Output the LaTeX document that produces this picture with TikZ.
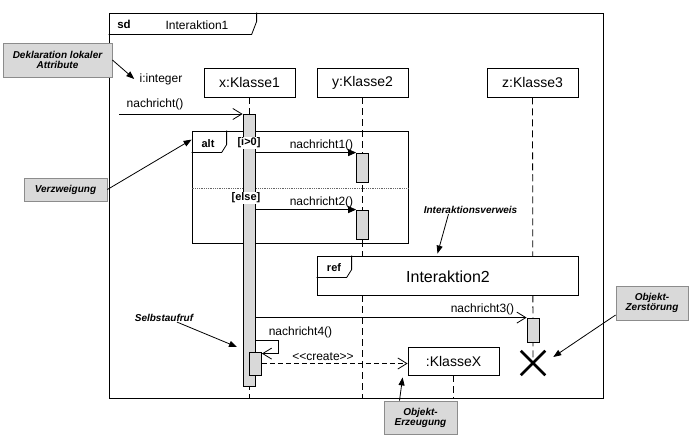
\documentclass[tikz,border=0pt]{standalone}
\usepackage{fontspec}
\setmainfont{Liberation Sans}
\usetikzlibrary{arrows.meta,shapes.misc}
\newcommand{\fs}[1]{\fontsize{#1}{#1}\selectfont}

\begin{document}
\begin{tikzpicture}[
    x=1pt, y=-1pt, line width=0.8pt,
    every node/.style={inner sep=0},
    head/.style={draw, fill=white, minimum width=91pt, minimum height=29pt, font=\fs{14}},
    lbl/.style={font=\fs{12}},
    tag/.style={font=\bfseries\fs{11}},
    guard/.style={fill=white, inner sep=1pt, font=\bfseries\fs{11}},
    bar/.style={draw, fill=black!15, minimum width=12pt},
    lifeline/.style={dash pattern=on 7pt off 4pt},
    async/.style={-{Straight Barb[length=9pt,width=11pt]}},
    sync/.style={-{Triangle[length=8pt,width=7pt]}},
    note/.style={draw=black!45, fill=black!15, align=center, font=\bfseries\itshape\fs{10}},
    notetext/.style={font=\bfseries\itshape\fs{10}},
    pointer/.style={-{Triangle[length=8pt,width=6pt]}}
  ]
  \useasboundingbox (0,0) rectangle (697,438);

  % outer frame
  \node[draw, minimum width=494pt, minimum height=385pt] (sd) at (356,205.5) {};
  \draw (sd.north west) ++(0,22) -- ++(143,0) -- ++(5,-13) -- ++(0,-9);
  \node[font=\bfseries\fs{11.5}] (sdtag) at (124,24) {sd};
  \node[lbl] (sdname) at (197,25) {Interaktion1};
  \node[lbl] (iint) at (161,79) {i:integer};

  % lifelines
  \node[head] (x1) at (249.5,82.5) {x:Klasse1};
  \node[head] (y2) at (362.5,82.5) {y:Klasse2};
  \node[head] (z3) at (532.5,82.5) {z:Klasse3};
  \node[head, minimum width=91pt, minimum height=28pt] (kx) at (453.5,361) {:KlasseX};
  \node[draw, cross out, line width=2.5pt, minimum size=22pt] (del) at (533,363) {};

  \draw[lifeline] (x1.south) -- (x1.south |- sd.south);
  \draw[lifeline] (y2.south) -- (y2.south |- sd.south);
  \draw[lifeline] (z3.south) -- (del.center);
  \draw[lifeline] (kx.south) -- (kx.south |- sd.south);

  % alt fragment
  \node[draw, minimum width=216pt, minimum height=112pt] (alt) at (300,187) {};
  \draw (alt.north west) ++(0,22) -- ++(30,0) -- ++(5,-8) -- ++(0,-14);
  \node[tag] (alttag) at (208,144) {alt};
  \draw[densely dotted, black!60] (alt.west |- 0,188) -- (alt.east |- 0,188);

  % ref fragment
  \node[draw, fill=white, minimum width=261pt, minimum height=39pt] (ref) at (447.5,275.5) {};
  \draw (ref.north west) ++(0,22) -- ++(30,0) -- ++(5,-8) -- ++(0,-14);
  \node[tag] (reftag) at (334,268) {ref};
  \node[font=\fs{16}] (refname) at (448,277) {Interaktion2};

  % activations
  \node[bar, minimum height=272pt] (bar) at (249,250) {};
  \node[bar, minimum height=29pt] (a1) at (362.5,167.5) {};
  \node[bar, minimum height=29pt] (a2) at (362.5,224.5) {};
  \node[bar, minimum height=24pt] (a3) at (533,330) {};
  \node[bar, minimum height=23pt] (sa) at (255.5,363.5) {};

  % messages
  \coordinate (found) at (119,114);
  \draw[async] (found) -- (found -| bar.west);
  \node[lbl] (m0) at (155,104) {nachricht()};

  \node[guard] (g1) at (249,143) {[i>0]};
  \draw[sync] (a1.north west -| bar.east) -- (a1.north west);
  \node[lbl] (m1) at (321.5,145) {nachricht1()};

  \node[guard] (g2) at (246,198) {[else]};
  \draw[sync] (a2.north west -| bar.east) -- (a2.north west);
  \node[lbl] (m2) at (321.5,202) {nachricht2()};

  \draw[async] (a3.north west -| bar.east) -- (a3.north west);
  \node[lbl] (m3) at (482.5,309) {nachricht3()};

  \coordinate (self) at (278,340);
  \draw[async] (self -| bar.east) -- (self) |- ([yshift=-2pt]sa.north east);
  \node[lbl] (m4) at (300.5,332) {nachricht4()};

  \draw[async, dash pattern=on 5pt off 3pt] (sa.east) -- (sa.east -| kx.west);
  \node[lbl] (mc) at (323,357) {<\kern0pt<create>\kern0pt>};

  % notes
  \node[note, minimum width=109pt, minimum height=34pt] (dekl) at (57.5,60) {Deklaration lokaler\\Attribute};
  \node[note, minimum width=83pt, minimum height=23pt] (verz) at (65.5,189.5) {Verzweigung};
  \node[note, minimum width=73pt, minimum height=33pt] (erz) at (420.5,417.5) {Objekt-\\Erzeugung};
  \node[note, minimum width=72pt, minimum height=34pt] (zer) at (652,303) {Objekt-\\Zerstörung};
  \node[notetext] (verw) at (470.5,210) {Interaktionsverweis};
  \node[notetext] (selbst) at (164,318) {Selbstaufruf};
  \coordinate (selbstpt) at (237,347);

  \draw[pointer] (dekl.east) -- ([xshift=-5pt]iint.west);
  \draw[pointer] (verz.east) -- ([yshift=-9pt]alt.north west);
  \draw[pointer] ([xshift=-22pt]verw.south) -- ([xshift=-10pt,yshift=2pt]ref.north);
  \draw[pointer] ([xshift=13pt]selbst.south) -- (selbstpt);
  \draw[pointer] ([xshift=-21pt]erz.north) -- ([xshift=-5pt,yshift=-2pt]kx.south west);
  \draw[pointer] ([yshift=-12pt]zer.west) -- ([xshift=8pt,yshift=6pt]del.east);
\end{tikzpicture}
\end{document}
